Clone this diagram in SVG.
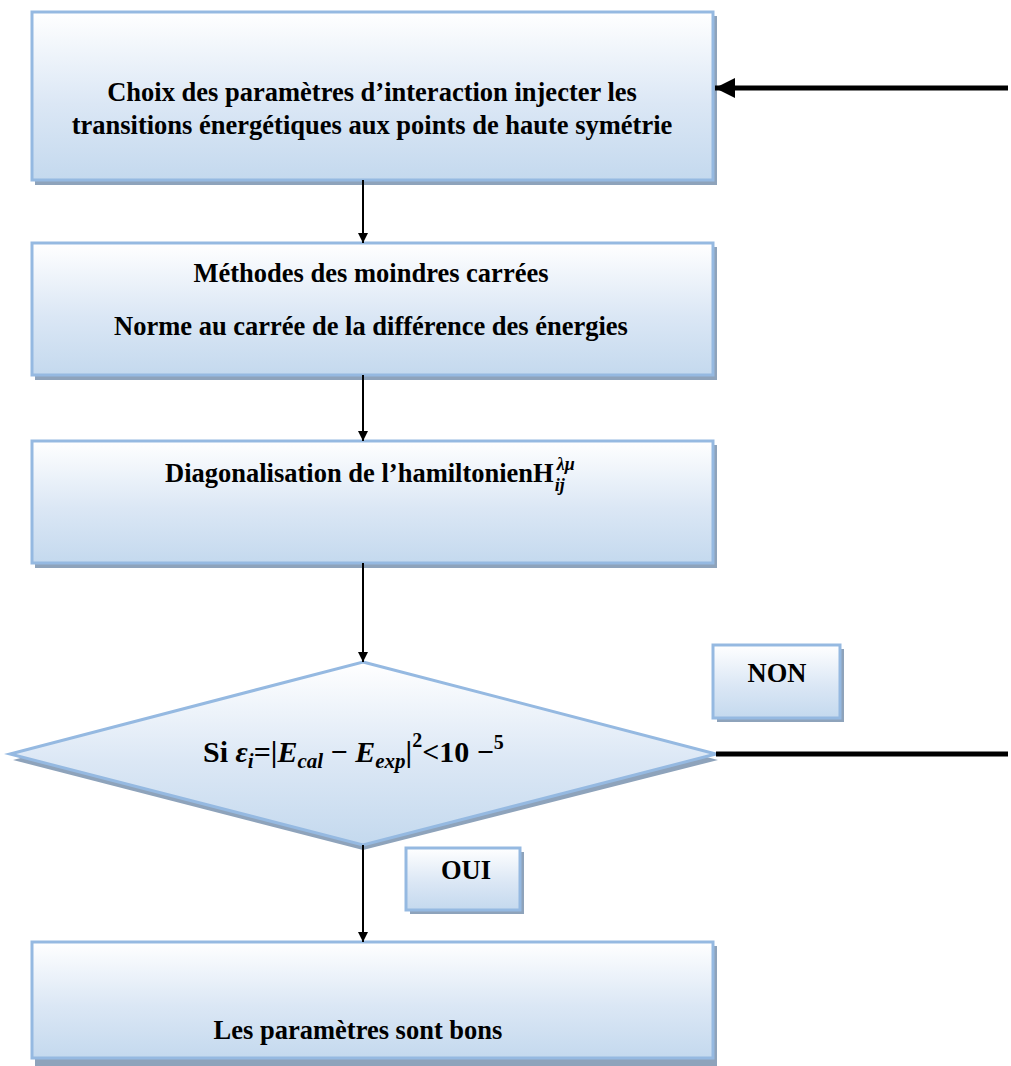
<svg xmlns="http://www.w3.org/2000/svg" width="1011" height="1066" viewBox="0 0 1011 1066">
<defs>
<linearGradient id="g" x1="0" y1="0" x2="0" y2="1">
<stop offset="0" stop-color="#ffffff"/>
<stop offset="0.55" stop-color="#dbe7f5"/>
<stop offset="1" stop-color="#c4d9ee"/>
</linearGradient>
<marker id="ah" viewBox="0 0 10 10" refX="10" refY="5" markerWidth="10" markerHeight="10" markerUnits="userSpaceOnUse" orient="auto">
<path d="M0,0 L10,5 L0,10 z" fill="#000"/>
</marker>
<marker id="ahb" viewBox="0 0 10 10" refX="10" refY="5" markerWidth="4.4" markerHeight="4" orient="auto">
<path d="M0,0 L10,5 L0,10 z" fill="#000"/>
</marker>
</defs>
<style>
.box{fill:url(#g);stroke:#95b9e1;stroke-width:3}
.sh{fill:#8ea3bb}
.t{font-family:"Liberation Serif","Times New Roman",serif;font-weight:bold;font-size:26.5px;fill:#000;text-anchor:middle}
.m{font-family:"Liberation Serif","DejaVu Serif",serif;font-weight:bold;font-style:italic;fill:#000}
.c{stroke:#000;stroke-width:2;fill:none}
.ct{stroke:#000;stroke-width:5;fill:none}
</style>
<rect width="1011" height="1066" fill="#fff"/>
<g id="n1">
<rect class="sh" x="35" y="16" width="682" height="169"/>
<rect class="box" x="32" y="12" width="681" height="168"/>
<text class="t" x="372" y="101">Choix des paramètres d’interaction injecter les</text>
<text class="t" x="372" y="134">transitions énergétiques aux points de haute symétrie</text>
</g>
<g id="n2">
<rect class="sh" x="35" y="247" width="682" height="133"/>
<rect class="box" x="32" y="243" width="681" height="132"/>
<text class="t" x="371" y="282">Méthodes des moindres carrées</text>
<text class="t" x="371" y="335">Norme au carrée de la différence des énergies</text>
</g>
<g id="n3">
<rect class="sh" x="35" y="445" width="682" height="123"/>
<rect class="box" x="32" y="441" width="681" height="122"/>
<text class="t" x="165" y="482" style="text-anchor:start">Diagonalisation de l’hamiltonienH<tspan class="m" font-size="18" dx="3" dy="-12">λμ</tspan><tspan class="m" font-size="18" dx="-20" dy="21">ij</tspan></text>
</g>
<g id="n4">
<polygon class="sh" points="363,668 718,760 363,850 13,760"/>
<polygon class="box" points="363,662 716,754 363,845 10,754"/>
<text x="203" y="762" class="t" style="text-anchor:start;font-size:30px">Si <tspan class="m">ε</tspan><tspan class="m" font-size="21" dy="6">i</tspan><tspan dy="-6">=|</tspan><tspan class="m">E</tspan><tspan class="m" font-size="21" dy="6">cal</tspan><tspan dy="-6"> − </tspan><tspan class="m">E</tspan><tspan class="m" font-size="21" dy="6">exp</tspan><tspan dy="-6">|</tspan><tspan font-size="20" dy="-15">2</tspan><tspan dy="15">&lt;10 −</tspan><tspan font-size="20" dy="-13">5</tspan></text>
</g>
<g id="non">
<rect class="sh" x="717" y="649" width="127" height="73"/>
<rect class="box" x="713" y="645" width="127" height="73"/>
<text class="t" x="777" y="682">NON</text>
</g>
<g id="oui">
<rect class="sh" x="410" y="852" width="114" height="62"/>
<rect class="box" x="406" y="848" width="114" height="62"/>
<text class="t" x="466" y="879">OUI</text>
</g>
<g id="n5">
<rect class="sh" x="35" y="946" width="682" height="120"/>
<rect class="box" x="32" y="942" width="681" height="116"/>
<text class="t" x="358" y="1039">Les paramètres sont bons</text>
</g>
<g id="connectors">
<line class="c" x1="363" y1="180" x2="363" y2="243" marker-end="url(#ah)"/>
<line class="c" x1="363" y1="375" x2="363" y2="441" marker-end="url(#ah)"/>
<line class="c" x1="363" y1="563" x2="363" y2="662" marker-end="url(#ah)"/>
<line class="c" x1="363" y1="845" x2="363" y2="942" marker-end="url(#ah)"/>
<line class="ct" x1="716" y1="754" x2="1008" y2="754"/>
<line class="ct" x1="1008" y1="88" x2="715" y2="88" marker-end="url(#ahb)"/>
</g>
</svg>
